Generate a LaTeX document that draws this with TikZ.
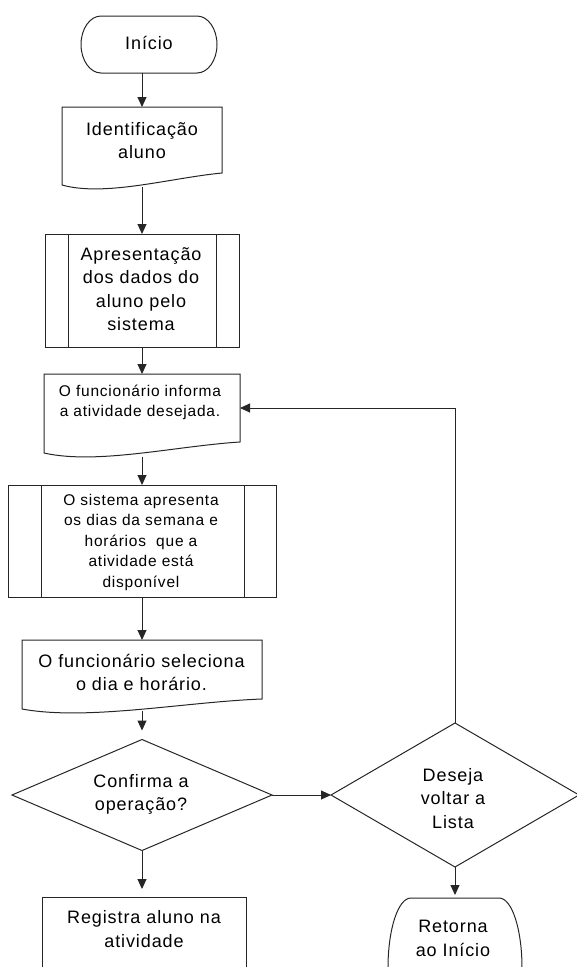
\documentclass[tikz,border=0pt]{standalone}
\usepackage{fontspec}
\setmainfont{Liberation Sans}[LetterSpace=5]
\usetikzlibrary{arrows.meta,shapes.geometric}

\newcommand{\bigtxt}{\fontsize{18pt}{23.5pt}\selectfont}
\newcommand{\smalltxt}{\fontsize{15.5pt}{20.5pt}\selectfont}

\begin{document}
\begin{tikzpicture}[x=1pt,y=-1pt,
  outline/.style={draw=black!85, line width=1pt},
  anchorbox/.style={draw=none, inner sep=0pt, outer sep=0pt},
  procbox/.style={outline, rectangle, inner sep=0pt, outer sep=0pt},
  decision/.style={outline, diamond, inner sep=0pt, outer sep=0pt},
  txtbig/.style={align=center, inner sep=0pt, font=\bigtxt},
  txtsmall/.style={align=center, inner sep=0pt, font=\smalltxt},
  flow/.style={draw=black!85, line width=1pt, -{Triangle[length=10pt,width=9pt]}},
]
\useasboundingbox (0,0) rectangle (577,967);
\clip (0,0) rectangle (577,967);

% --- start terminator
\draw[outline] (101,16) -- (197,16)
  .. controls (208,16) and (217,28.8) .. (217,44.5)
  .. controls (217,60.2) and (208,73) .. (197,73) -- (101,73)
  .. controls (90,73) and (81,60.2) .. (81,44.5)
  .. controls (81,28.8) and (90,16) .. (101,16) -- cycle;
\node[anchorbox, minimum width=136pt, minimum height=57pt] (start) at (149,44.5) {};
\node[txtbig] at (149,43) {Início};

% --- document: student identification
\draw[outline] (62,107) -- (222,107) -- (222,173)
  .. controls (170,178) and (105,197) .. (62,185) -- cycle;
\node[anchorbox, minimum width=160pt, minimum height=80pt] (doc1) at (142,147) {};
\node[txtbig] at (142,140.5) {Identificação\\aluno};

% --- predefined process: student data
\node[procbox, minimum width=194pt, minimum height=113pt] (proc1) at (142,290.5) {};
\draw[outline] ([xshift=23pt]proc1.north west) -- ([xshift=23pt]proc1.south west);
\draw[outline] ([xshift=-23pt]proc1.north east) -- ([xshift=-23pt]proc1.south east);
\node[txtbig] at (141,289) {Apresentação\\dos dados do\\aluno pelo\\sistema};

% --- document: requested activity
\draw[outline] (44,374) -- (240,374) -- (240,442)
  .. controls (176,446) and (97,465) .. (44,453) -- cycle;
\node[anchorbox, minimum width=196pt, minimum height=83pt] (doc2) at (142,415.5) {};
\node[txtsmall] at (140,402.5) {O funcionário informa\\a atividade desejada.};

% --- predefined process: schedule
\node[procbox, minimum width=268pt, minimum height=112pt] (proc2) at (142,541) {};
\draw[outline] ([xshift=33pt]proc2.north west) -- ([xshift=33pt]proc2.south west);
\draw[outline] ([xshift=-32pt]proc2.north east) -- ([xshift=-32pt]proc2.south east);
\node[txtsmall] at (141,542) {O sistema apresenta\\os dias da semana e\\horários~ que a\\atividade está\\disponível};

% --- document: day and time
\draw[outline] (22,640) -- (262,640) -- (262,699)
  .. controls (184,702) and (87,721) .. (22,709) -- cycle;
\node[anchorbox, minimum width=240pt, minimum height=71pt] (doc3) at (142,675.5) {};
\node[txtbig] at (141.5,672.5) {O funcionário seleciona\\o dia e horário.};

% --- decisions
\node[decision, minimum width=260pt, minimum height=111pt, aspect=2.34] (d1) at (142,795) {};
\node[txtbig] at (141,794.5) {Confirma a\\operação?};
\node[decision, minimum width=248pt, minimum height=144pt, aspect=1.72] (d2) at (455,795) {};
\node[txtbig] at (453,798.5) {Deseja\\voltar a\\Lista};

% --- registration
\node[procbox, minimum width=204pt, minimum height=110pt] (reg) at (144,952) {};
\node[txtbig] at (144,929) {Registra aluno na\\atividade};

% --- return terminator
\draw[outline] (388,1040) -- (388,968)
  .. controls (388,929.3) and (398,898) .. (411,898) -- (499,898)
  .. controls (512,898) and (522,929.3) .. (522,968) -- (522,1040);
\node[anchorbox, minimum width=134pt, minimum height=140pt] (ret) at (455,968) {};
\node[txtbig] at (453,938.5) {Retorna\\ao Início};

% --- connectors
\draw[flow] (start.south -| doc1.north) -- (doc1.north);
\draw[flow] (doc1.south) -- (proc1.north);
\draw[flow] (proc1.south) -- (doc2.north);
\draw[flow] (doc2.south) -- (proc2.north);
\draw[flow] (proc2.south) -- (doc3.north);
\draw[flow, shorten >=9pt] (doc3.south) -- (d1.north);
\draw[flow, shorten >=8pt] (d1.south) -- (d1.south |- reg.north);
\draw[flow] (d1.east) -- (d2.west);
\draw[flow] (d2.north) |- ([yshift=7.5pt]doc2.east);
\draw[flow, shorten >=3pt] (d2.south) -- (ret.north);
\end{tikzpicture}
\end{document}
